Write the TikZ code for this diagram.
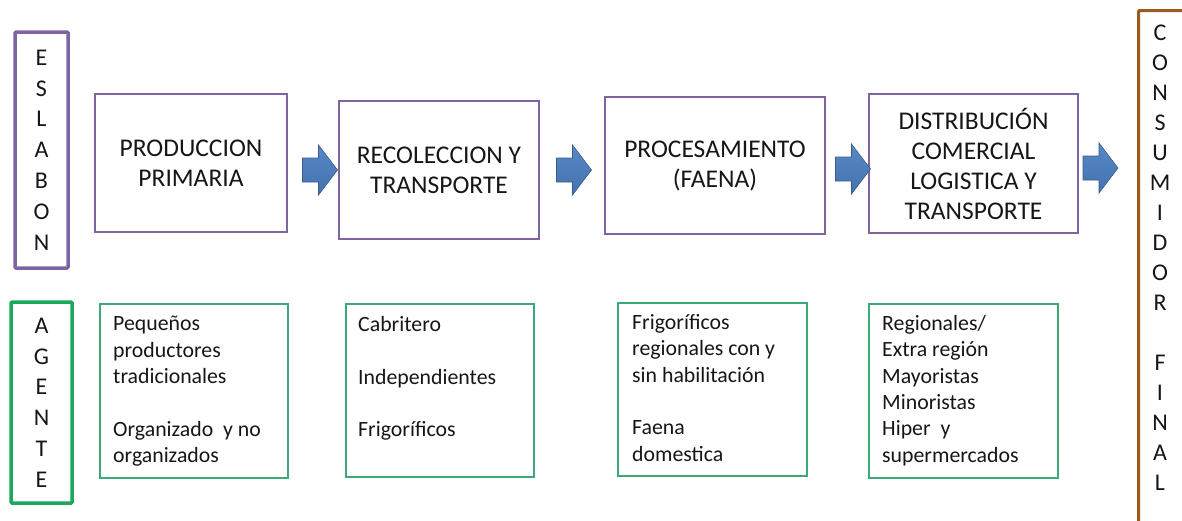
\documentclass[tikz,border=0pt]{standalone}
\usepackage{fontspec}
\setmainfont{Carlito}
\usetikzlibrary{positioning}

\definecolor{eslabon}{RGB}{128,100,162}
\definecolor{agente}{RGB}{27,168,90}
\definecolor{agthin}{RGB}{60,170,120}
\definecolor{consum}{RGB}{156,90,30}
\definecolor{arrowtop}{RGB}{86,137,198}
\definecolor{arrowbot}{RGB}{68,114,174}
\definecolor{arrowline}{RGB}{56,93,140}
\definecolor{txt}{RGB}{22,22,22}

\tikzset{
  sidebox/.style={draw, line width=3.5pt, rounded corners=1pt, inner sep=0pt,
    align=center, text=txt, font=\fontsize{24}{30.8}\selectfont},
  stagebox/.style={draw=eslabon, line width=1.2pt, align=center, text=txt,
    font=\fontsize{25.5}{30}\selectfont, inner sep=0pt},
  agentbox/.style={draw=agthin, line width=1.5pt, inner sep=0pt, anchor=north west},
  agenttext/.style={anchor=north west, align=left, text=txt,
    font=\fontsize{21.8}{26.4}\selectfont, inner sep=0pt},
  blockarrow/.pic={
    \draw[arrowline, line width=0.6pt, top color=arrowtop, bottom color=arrowbot]
      (-17,-12) -- (-1,-12) -- (-1,-25) -- (18,0) -- (-1,25) -- (-1,12) -- (-17,12) -- cycle;}
}

\begin{document}
\begin{tikzpicture}[x=1pt,y=-1pt]
    \useasboundingbox (0,0) rectangle (1182,520);
    \clip (0,0) rectangle (1182,520);

    % left labels
    \node[sidebox, draw=eslabon, minimum width=53pt, minimum height=236pt] (eslabon) at (41.5,150) {E\\S\\L\\A\\B\\O\\N};
    \node[sidebox, draw=agente, minimum width=61pt, minimum height=201pt] (agente) at (41.5,402.5) {A\\G\\E\\N\\T\\E};

    % eslabones
    \node[stagebox, minimum width=192pt, minimum height=138pt] (prod) at (191,163) {PRODUCCION\\PRIMARIA};
    \node[stagebox, minimum width=200pt, minimum height=138pt] (recol) at (439,170) {RECOLECCION Y\\TRANSPORTE};
    \node[stagebox, minimum width=220pt, minimum height=137pt] (proc) at (715,165.5) {PROCESAMIENTO\\(FAENA)};
    \node[stagebox, minimum width=209pt, minimum height=139pt] (dist) at (973.5,163.5) {DISTRIBUCIÓN\\COMERCIAL\\LOGISTICA Y\\TRANSPORTE};

    \pic (arr1) at (319.5,170) {blockarrow};
    \pic (arr2) at (573.5,170) {blockarrow};
    \pic (arr3) at (852.5,169) {blockarrow};
    \pic (arr4) at (1100,168) {blockarrow};

    % agentes
    \node[agentbox, minimum width=188pt, minimum height=174pt] (ag1) at (99,303) {};
    \node[agenttext] (ag1txt) at ([xshift=14pt,yshift=-13pt]ag1.north west) {Pequeños\\productores\\tradicionales\\[26.4pt]Organizado\ \ y no\\organizados};

    \node[agentbox, minimum width=188pt, minimum height=173pt] (ag2) at (345,303) {};
    \node[agenttext] (ag2txt) at ([xshift=13pt,yshift=-13pt]ag2.north west) {Cabritero\\[26.4pt]Independientes\\[26.4pt]Frigoríficos};

    \node[agentbox, minimum width=189pt, minimum height=173pt] (ag3) at (617,302) {};
    \node[agenttext] (ag3txt) at ([xshift=15pt,yshift=-12pt]ag3.north west) {Frigoríficos\\regionales con y\\sin habilitación\\[26.4pt]Faena\\domestica};

    \node[agentbox, minimum width=189pt, minimum height=174pt] (ag4) at (868,303) {};
    \node[agenttext] (ag4txt) at ([xshift=14pt,yshift=-12pt]ag4.north west) {Regionales/\\Extra región\\Mayoristas\\Minoristas\\Hiper\ \ y\\supermercados};

    % consumidor final
    \node[sidebox, draw=consum, line width=3pt, minimum width=60pt, minimum height=530pt, anchor=north west] (consum) at (1137,9) {};
    \node[align=center, text=txt, font=\fontsize{24}{30}\selectfont] (consumtxt) at (1160,258) {C\\O\\N\\S\\U\\M\\I\\D\\O\\R\\[30pt]F\\I\\N\\A\\L};

\end{tikzpicture}
\end{document}
